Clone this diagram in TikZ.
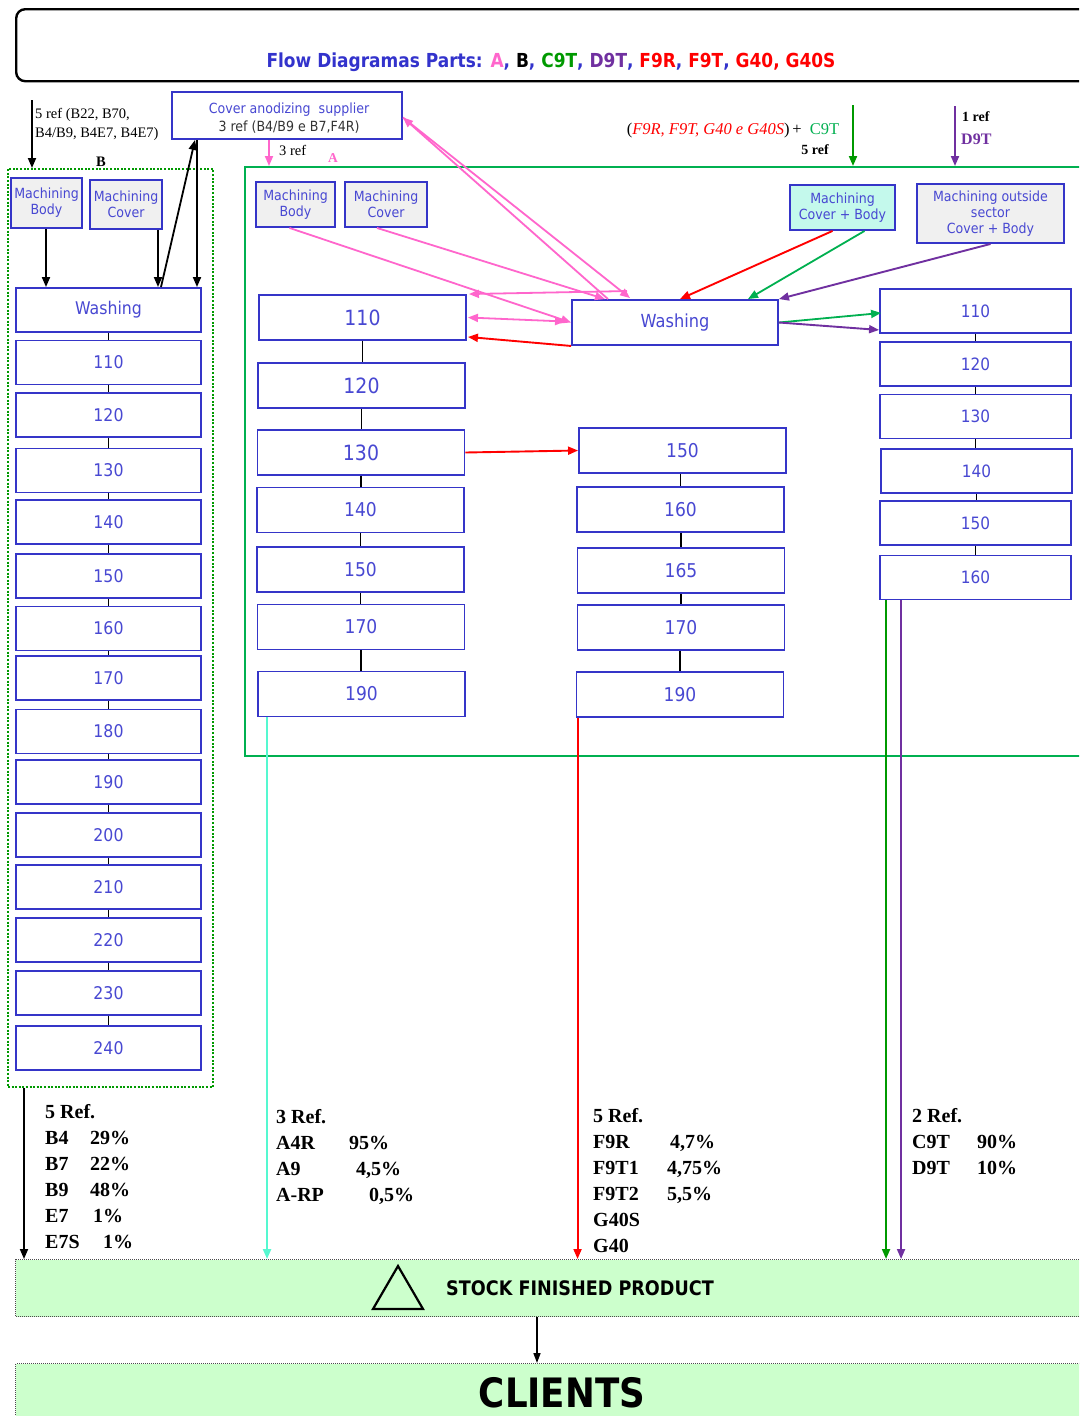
\documentclass[tikz,border=0pt]{standalone}
\usepackage{fontspec}
\setmainfont{Liberation Serif}
\newfontfamily\tah[FakeStretch=0.9]{DejaVu Sans}
\newfontfamily\tahb[FakeStretch=0.88]{DejaVu Sans Bold}
\usetikzlibrary{arrows.meta}
\definecolor{boxblue}{HTML}{3535C8}
\definecolor{txtblue}{HTML}{4848D2}
\definecolor{tblue}{HTML}{3333CC}
\definecolor{grayfill}{HTML}{F0F0F0}
\definecolor{cyanfill}{HTML}{C4F9EC}
\definecolor{pinkc}{HTML}{FF66CC}
\definecolor{secgreen}{HTML}{00B050}
\definecolor{dkgreen}{HTML}{009900}
\definecolor{purp}{HTML}{7030A0}
\definecolor{aqua}{HTML}{55F8D0}
\definecolor{stockg}{HTML}{CCFFCC}
\definecolor{dgray}{HTML}{333333}
\definecolor{redc}{HTML}{FF0000}
\tikzset{
  box/.style={draw=boxblue, line width=1.9pt, fill=white, text=txtblue, inner sep=0pt},
  mbox/.style={box, fill=grayfill, align=center, font=\tah\fontsize{14}{16}\selectfont},
  lbox/.style={box, minimum width=185pt, minimum height=44pt, font=\tah\fontsize{17.5}{20}\selectfont},
  abox/.style={box, minimum width=207pt, minimum height=45pt, font=\tah\fontsize{19}{22}\selectfont},
  cbox/.style={box, minimum width=191pt, minimum height=44pt, font=\tah\fontsize{17}{20}\selectfont},
  stem/.style={draw=black, line width=1.7pt},
  tipa/.style={-{Triangle[length=10pt,width=8pt]}},
  blk/.style={draw=black, line width=1.8pt, tipa},
  pk/.style={draw=pinkc, line width=1.8pt, tipa},
  pkk/.style={draw=pinkc, line width=1.8pt, {Triangle[length=10pt,width=8pt]}-{Triangle[length=10pt,width=8pt]}},
  rd/.style={draw=redc, line width=1.9pt, tipa},
  gn/.style={draw=secgreen, line width=1.8pt, tipa},
  dgn/.style={draw=dkgreen, line width=2pt, tipa},
  pu/.style={draw=purp, line width=1.9pt, tipa},
  aq/.style={draw=aqua, line width=2.1pt, tipa},
  btxt/.style={font=\bfseries\fontsize{20}{26}\selectfont, align=left, inner sep=0pt, anchor=north west},
  stxt/.style={font=\fontsize{14.5}{19}\selectfont, inner sep=0pt},
}
\begin{document}
\begin{tikzpicture}[x=1pt,y=-1pt]
\useasboundingbox (0,0) rectangle (1079,1416);
\clip (0,0) rectangle (1079,1416);
\fill[white] (0,0) rectangle (1079,1416);

% title
\node[draw=black, line width=2.4pt, rounded corners=9pt, minimum width=1100pt, minimum height=72pt, anchor=north west, inner sep=0pt] (title) at (15,8) {};
\node[font=\tahb\fontsize{19.3}{22}\selectfont, text=tblue, inner sep=0pt] (ttl) at (551,62) {Flow Diagramas Parts: \textcolor{pinkc}{A}, \textcolor{black}{B}, \textcolor{dkgreen}{C9T}, \textcolor{purp}{D9T}, \textcolor{redc}{F9R}, \textcolor{redc}{F9T}, \textcolor{redc}{G40, G40S}};

% ---------- group B ----------
\node[draw=dkgreen, dash pattern=on 2pt off 1.6pt, line width=1.8pt, anchor=north west, minimum width=205pt, minimum height=918pt, inner sep=0pt] (grpB) at (7,168) {};
\node[font=\bfseries\fontsize{14.5}{16}\selectfont, inner sep=0pt] (lblB) at (101,162) {B};
\coordinate (t5) at (32,100);
\draw[blk] (t5) -- (t5 |- grpB.north);
\node[stxt, anchor=north west, align=left] (t5txt) at (35,108) {5 ref (B22, B70,\\B4/B9, B4E7, B4E7)};

\node[mbox, minimum width=71pt, minimum height=50pt] (lmb) at (46.5,203) {Machining\\Body};
\node[mbox, minimum width=72pt, minimum height=49pt] (lmc) at (126,204.5) {Machining\\Cover};

\node[box, minimum width=230pt, minimum height=47pt] (sup) at (287,115.5) {};
\node[align=center, text=txtblue, inner sep=0pt, font=\tah\fontsize{14}{18}\selectfont] (suptxt) at (289,118.5) {Cover anodizing\ \ supplier\\\textcolor{dgray}{3 ref (B4/B9 e B7,F4R)}};

\foreach \n/\t/\y in {lW/Washing/310, l110/110/362.5, l120/120/415, l130/130/470.5, l140/140/522, l150/150/576, l160/160/628.5, l170/170/678, l180/180/731.5, l190/190/782, l200/200/835, l210/210/887, l220/220/940, l230/230/993, l240/240/1048}
  \node[lbox] (\n) at (108.5,\y) {\t};
\foreach \a/\b in {lW/l110, l110/l120, l120/l130, l130/l140, l140/l150, l150/l160, l160/l170, l170/l180, l180/l190, l190/l200, l200/l210, l210/l220, l220/l230, l230/l240}
  \draw[stem] (\a.south) -- (\a.south |- \b.north);

\coordinate (x46) at (46,0);
\coordinate (x158) at (158,0);
\coordinate (x160) at (161,0);
\coordinate (x195) at (195,0);
\coordinate (x197) at (197,0);
\draw[blk] (lmb.south -| x46) -- (lW.north -| x46);
\draw[blk] (lmc.south -| x158) -- (lW.north -| x158);
\draw[blk] (lW.north -| x160) -- (sup.south -| x195);
\draw[blk] (sup.south -| x197) -- (lW.north -| x197);

% ---------- section A ----------
\node[draw=secgreen, line width=1.8pt, anchor=north west, minimum width=900pt, minimum height=589pt, inner sep=0pt] (secA) at (244,166) {};
\node[font=\bfseries\fontsize{13.5}{15}\selectfont, text=pinkc, inner sep=0pt] (lblA) at (333,158) {A};
\coordinate (x269) at (269,0);
\draw[pk] (sup.south -| x269) -- (secA.north -| x269);
\node[stxt, anchor=west] (ref3) at (279,150) {3 ref};

\node[mbox, minimum width=79pt, minimum height=45pt] (amb) at (295.5,204.5) {Machining\\Body};
\node[mbox, minimum width=82pt, minimum height=45pt] (amc) at (386,204.5) {Machining\\Cover};
\node[mbox, fill=cyanfill, minimum width=105pt, minimum height=45pt] (mcb) at (842.5,207.5) {Machining\\Cover + Body};
\node[mbox, minimum width=147pt, minimum height=59pt] (mos) at (990.5,213.5) {Machining outside\\sector\\Cover + Body};

\node[abox, font=\tah\fontsize{21}{24}\selectfont] (a110) at (362.5,317.5) {110};
\node[abox, font=\tah\fontsize{21}{24}\selectfont] (a120) at (361.5,385.5) {120};
\node[abox, font=\tah\fontsize{21}{24}\selectfont] (a130) at (361,452.5) {130};
\node[abox] (a140) at (360.5,510) {140};
\node[abox] (a150) at (360.5,569.5) {150};
\node[abox] (a170) at (361,627) {170};
\node[abox] (a190) at (361.5,694) {190};
\foreach \a/\b in {a110/a120, a120/a130, a130/a140, a140/a150, a150/a170, a170/a190}
  \draw[stem] (\a.south) -- (\a.south |- \b.north);

\node[abox, minimum width=206pt, font=\tah\fontsize{18}{20}\selectfont] (aW) at (675,322.5) {Washing};

\node[abox] (b150) at (682.5,450.5) {150};
\node[abox] (b160) at (680.5,509.5) {160};
\node[abox] (b165) at (681,570.5) {165};
\node[abox] (b170) at (681,627.5) {170};
\node[abox] (b190) at (680,694.5) {190};
\foreach \a/\b in {b150/b160, b160/b165, b165/b170, b170/b190}
  \draw[stem] (\b.north |- \a.south) -- (\b.north);

\node[cbox] (c110) at (975.5,311) {110};
\node[cbox] (c120) at (975.5,364) {120};
\node[cbox] (c130) at (975.5,416.5) {130};
\node[cbox] (c140) at (976.5,471) {140};
\node[cbox] (c150) at (975.5,523) {150};
\node[cbox] (c160) at (975.5,577.5) {160};
\foreach \a/\b in {c110/c120, c120/c130, c130/c140, c140/c150, c150/c160}
  \draw[stem] (\a.south) -- (\a.south |- \b.north);

% pink connectors
\draw[pk] ([xshift=-6pt]amb.south) -- (aW.west);
\draw[pk] ([xshift=-9pt]amc.south) -- ([xshift=-70pt]aW.north);
\draw[pk] ([xshift=-67pt]aW.north) -- ([yshift=-2pt]sup.east);
\draw[pk] ([yshift=-2pt]sup.east) -- ([xshift=-45pt,yshift=1pt]aW.north);
\draw[pk] ([xshift=-48pt,yshift=8pt]aW.north) -- ([xshift=2pt]a110.north east);
\draw[pkk] ([xshift=1pt]a110.east) -- ([xshift=-6pt,yshift=1pt]aW.west);
% red / green / purple
\draw[rd] (aW.south west) -- ([xshift=1pt,yshift=4pt]a110.south east);
\draw[rd] ([xshift=-10pt]mcb.south) -- ([xshift=5pt]aW.north);
\draw[gn] ([xshift=22pt]mcb.south) -- ([xshift=73pt]aW.north);
\draw[pu] (mos.south) -- (aW.north east);
\draw[gn] (aW.east) -- ([xshift=2pt,yshift=-2pt]c110.west);
\draw[pu] (aW.east) -- ([yshift=4pt]c110.south west);
\draw[rd] (a130.east) -- (b150.west);

% top right labels and arrows
\node[font=\fontsize{16.5}{18}\selectfont, inner sep=0pt] (lblF) at (733,131) {(\textcolor{redc}{\itshape F9R, F9T,\ G40 e G40S})\,+\ \ \textcolor{secgreen}{C9T}};
\node[font=\bfseries\fontsize{14}{16}\selectfont, inner sep=0pt] (ref5) at (815,150) {5 ref};
\coordinate (gtop) at (853,105);
\draw[dgn] (gtop) -- (gtop |- secA.north);
\coordinate (ptop) at (955,106);
\draw[pu] (ptop) -- (ptop |- secA.north);
\node[font=\bfseries\fontsize{14}{16}\selectfont, inner sep=0pt, anchor=west] (ref1) at (962,117) {1 ref};
\node[font=\bfseries\fontsize{16}{18}\selectfont, text=purp, inner sep=0pt, anchor=west] (d9t) at (961,139) {D9T};

% ---------- stock & clients ----------
\node[draw=black!70, dash pattern=on 1pt off 1pt, line width=1.2pt, fill=stockg, anchor=north west, minimum width=1100pt, minimum height=57pt, inner sep=0pt] (stock) at (15,1259) {};
\draw[line width=2.2pt, line join=miter] (398,1266) -- (423,1309) -- (373,1309) -- cycle;
\node[font=\tahb\fontsize{20}{22}\selectfont, inner sep=0pt] (stocktxt) at (580,1288) {STOCK FINISHED PRODUCT};
\node[draw=black!70, dash pattern=on 1pt off 1pt, line width=1.2pt, fill=stockg, anchor=north west, minimum width=1100pt, minimum height=80pt, inner sep=0pt] (clients) at (15,1363) {};
\node[font=\tahb\fontsize{40.5}{44}\selectfont, inner sep=0pt] (clitxt) at (562,1393) {CLIENTS};
\coordinate (x537) at (537,0);
\draw[draw=black, line width=1.6pt, -{Triangle[length=10pt,width=7pt]}] (stock.south -| x537) -- (clients.north -| x537);

% vertical flows to stock
\draw[blk] ([xshift=17pt]grpB.south west) -- ([xshift=17pt]grpB.south west |- stock.north);
\draw[aq] ([xshift=10pt]a190.south west) -- ([xshift=10pt]a190.south west |- stock.north);
\draw[rd] ([xshift=2pt]b190.south west) -- ([xshift=2pt]b190.south west |- stock.north);
\draw[dgn] ([xshift=7pt]c160.south west) -- ([xshift=7pt]c160.south west |- stock.north);
\draw[pu] ([xshift=22pt]c160.south west) -- ([xshift=22pt]c160.south west |- stock.north);

% bottom texts
\node[btxt] (bB) at (45,1104) {5 Ref.\\\makebox[45pt][l]{B4}29\%\\\makebox[45pt][l]{B7}22\%\\\makebox[45pt][l]{B9}48\%\\\makebox[48pt][l]{E7}1\%\\\makebox[58pt][l]{E7S}1\%};
\node[btxt] (bA) at (276,1109) {3 Ref.\\\makebox[73pt][l]{A4R}95\%\\\makebox[80pt][l]{A9}4,5\%\\\makebox[93pt][l]{A-RP}0,5\%};
\node[btxt] (bF) at (593,1108) {5 Ref.\\\makebox[77pt][l]{F9R}4,7\%\\\makebox[74pt][l]{F9T1}4,75\%\\\makebox[74pt][l]{F9T2}5,5\%\\G40S\\G40};
\node[btxt] (bC) at (912,1108) {2 Ref.\\\makebox[65pt][l]{C9T}90\%\\\makebox[65pt][l]{D9T}10\%};
\end{tikzpicture}
\end{document}
